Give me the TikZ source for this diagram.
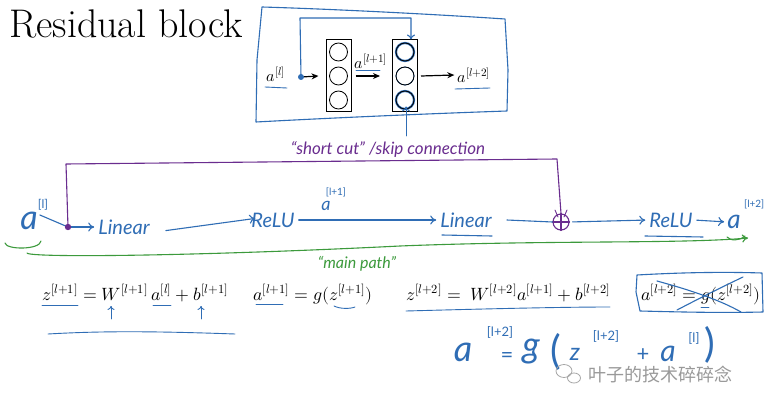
\documentclass[tikz,border=0pt]{standalone}
\usepackage{fontspec}
\usepackage{amsmath}
\usepackage{unicode-math}
\setmathfont{Latin Modern Math}
\usetikzlibrary{arrows.meta}
\newfontfamily\hand{Lato}
\newfontfamily\cjk{Noto Sans CJK SC}
\definecolor{hblue}{HTML}{2F6DB5}
\definecolor{hpurple}{HTML}{6A2D8F}
\definecolor{hgreen}{HTML}{3C9A3C}
\tikzset{
  hb/.style={draw=hblue, line width=1.1pt, line cap=round, line join=round},
  hp/.style={draw=hpurple, line width=1.1pt, line cap=round, line join=round},
  hg/.style={draw=hgreen, line width=1.1pt, line cap=round, line join=round},
  harr/.style={hb, -{To[length=6pt,width=9pt]}, shorten <=3pt, shorten >=3pt},
  karr/.style={draw=black, line width=1.2pt, -{Stealth[length=7pt,width=6pt]}},
  ink/.style={text=hblue, font=\hand\itshape\fontsize{20}{22}\selectfont, inner sep=1pt},
  hsup/.style={text=hblue, font=\hand\fontsize{12}{13}\selectfont, inner sep=0pt},
  pink/.style={text=hpurple, font=\hand\itshape\fontsize{17}{19}\selectfont},
  gink/.style={text=hgreen, font=\hand\itshape\fontsize{16}{18}\selectfont},
  layerbox/.style={draw, line width=1pt, minimum width=25pt, minimum height=72pt, inner sep=0pt},
  neuron/.style={circle, draw, line width=0.8pt, minimum size=18pt, inner sep=0pt},
  eq/.style={font=\fontsize{17.8}{21}\selectfont, anchor=base west, inner sep=0pt},
  sm/.style={font=\fontsize{16}{18}\selectfont, inner sep=1pt}
}
\begin{document}
\begin{tikzpicture}[x=1pt,y=-1pt]
\useasboundingbox (0,0) rectangle (765,406);
\fill[white] (0,0) rectangle (765,406);

% title
\node[font=\fontsize{40}{44}\selectfont, anchor=base west, inner sep=0pt] (title) at (9,38) {Residual block};

% ---- top diagram ----
\draw[hb] (262,7) .. controls (330,9) and (430,14) .. (505,19) -- (508,70) -- (507,111)
  .. controls (420,114) and (330,118) .. (256,122) -- (257,60) -- cycle;
\node[sm] (al) at (276,74) {$a^{[l]}$};
\draw[hb, line width=0.9pt] (265,87) -- (287,88);
\coordinate (dot) at (301,77);
\node[layerbox] (L1) at (338.5,76) {};
\node[neuron] (n11) at (338.5,52) {};
\node[neuron] (n12) at (338.5,76) {};
\node[neuron] (n13) at (338.5,100) {};
\node[layerbox] (L2) at (405,76) {};
\node[neuron, draw=hblue, double=hblue, double distance=0.6pt] (n21) at (405,52) {};
\node[neuron, draw=hblue] (n22) at (405,76) {};
\node[neuron, draw=hblue, double=hblue, double distance=0.6pt] (n23) at (405,100) {};
\node[neuron] at (405,52) {};
\node[neuron] at (405,76) {};
\node[neuron] at (405,100) {};
\draw[karr] (dot) -- ([xshift=-7pt]L1.west);
\draw[karr] ([xshift=4pt]L1.east) -- ([xshift=-12pt]L2.west);
\node[sm] (a1lab) at (371,61) {$a^{[l+1]}$};
\draw[hb, line width=0.9pt] (356,70) -- (380,70);
\node[sm] (aout) at (474,75) {$a^{[l+2]}$};
\draw[karr] ([xshift=3pt]L2.east) -- ([xshift=-2pt]aout.west);
\draw[hb, line width=0.9pt] (455,89) -- (490,88);
\draw[hb, -{To[length=5pt,width=8pt]}] (dot) -- (300,18) -- (411,18) -- ([xshift=6pt]L2.north);
\fill[hblue] (dot) circle (3pt);
\coordinate (upbot) at (406,136);
\draw[hb, line width=0.9pt, -{To[length=5pt,width=8pt]}] (upbot) -- ([yshift=6pt]upbot |- L2.south);

% ---- purple skip text ----
\node[pink] (sctext) at (388,149) {“short cut” /skip connection};

% ---- main path ----
\node[text=hblue, font=\hand\itshape\fontsize{34}{36}\selectfont, inner sep=0pt] (a0) at (29,221) {a};
\node[hsup] (a0sup) at (43,205) {[l]};
\coordinate (pdot) at (68,227);
\node[ink] (lin1) at (124,227) {Linear};
\node[ink] (relu1) at (273,220) {ReLU};
\node[ink] (lin2) at (466,220) {Linear};
\node[circle, draw=hpurple, line width=1.1pt, minimum size=16pt, inner sep=0pt] (plus) at (561,222) {};
\draw[hp] (plus.north) -- (plus.south) (plus.west) -- (plus.east);
\node[ink] (relu2) at (671,220) {ReLU};
\node[text=hblue, font=\hand\itshape\fontsize{26}{28}\selectfont, inner sep=0pt] (a2) at (734,222) {a};
\node[hsup, font=\hand\fontsize{10}{11}\selectfont, anchor=west] (a2sup) at (744,204) {[l+2]};

\draw[hb] (a0.east) ++(2pt,6pt) coordinate (a0r) -- (pdot);
\draw[harr] (pdot) -- (lin1.west);
\draw[harr] (lin1.east) ++(12pt,-4pt) coordinate (l1r) -- ([xshift=8pt,yshift=2pt]relu1.west);
\draw[harr] (relu1.east) -- (lin2.west);
\node[text=hblue, font=\hand\itshape\fontsize{18}{19}\selectfont, inner sep=0pt] (a1mid) at (326,206) {a};
\node[hsup, font=\hand\fontsize{10}{11}\selectfont] (a1sup) at (336,192) {[l+1]};
\draw[hb] (lin2.east) ++(14pt,0) coordinate (l2r) -- (plus.west);
\draw[harr] (plus.east) -- (relu2.west);
\draw[harr] (relu2.east) -- (a2.west);
\draw[hb] (442,235) -- (492,236);
\draw[hb] (645,236) -- (703,237);

% skip connection (purple)
\coordinate (sk1) at (66,164);
\coordinate (sk2) at (557,159);
\draw[hp] (pdot) -- (sk1) -- (sk2) -- (plus.north);
\draw[hp, line width=0.9pt] (555,210) -- (558,217) (567,210) -- (564,217);
\fill[hpurple] (pdot) circle (3.2pt);

% green main path
\draw[hg] (5,243) .. controls (6,250) and (40,250) .. (41,241);
\coordinate (gstart) at (27,253);
\coordinate (gend) at (748,238);
\draw[hg, -{To[length=6pt,width=8pt]}] (gstart) .. controls (29,258) and (200,256) .. (400,246)
  .. controls (550,240) and (680,244) .. (gend);
\draw[hg] (727,237) .. controls (730,241) and (740,241) .. (745,236);
\node[gink] (mp) at (357,264) {“main path”};

% ---- equations ----
\node[eq] (e1) at (42,300) {$z^{[l+1]} = W^{[l+1]}\,a^{[l]} + b^{[l+1]}$};
\node[eq] (e2) at (253,300) {$a^{[l+1]} = g(z^{[l+1]})$};
\node[eq] (e3) at (406,300) {$z^{[l+2]} = \;W^{[l+2]}a^{[l+1]} + b^{[l+2]}$};
\node[eq] (e4) at (641,300) {$a^{[l+2]} = g(z^{[l+2]})$};

\draw[hb, line width=0.9pt] (42,305) -- (78,305);
\draw[hb, line width=0.9pt] (153,305) -- (171,305);
\draw[hb, line width=0.9pt] (256,304) -- (283,304);
\draw[hb, line width=0.9pt] (334,306) .. controls (340,309) and (350,309) .. (355,307);
\coordinate (up1) at (111,319);
\coordinate (up2) at (201,319);
\draw[hb, line width=0.9pt, -{To[length=4pt,width=7pt]}] (up1) -- ++(0,-13);
\draw[hb, line width=0.9pt, -{To[length=4pt,width=7pt]}] (up2) -- ++(0,-13);
\draw[hb, line width=0.9pt] (48,334) .. controls (100,331) and (150,331) .. (235,334);
\draw[hb, line width=0.9pt] (406,311) .. controls (480,309) and (560,307) .. (610,307);
\draw[hb] (637,275) .. controls (690,272) and (730,272) .. (762,273) -- (763,312)
  .. controls (720,313) and (680,312) .. (640,311) -- (636,292) -- cycle;
\draw[hb] (657,281) .. controls (690,290) and (720,300) .. (741,312);
\draw[hb] (743,277) .. controls (720,288) and (700,298) .. (677,310);
\draw[hb, line width=0.9pt] (701,307) -- (709,307);

% ---- bottom handwritten equation ----
\begin{scope}[text=hblue, inner sep=0pt]
\node[font=\hand\itshape\fontsize{36}{38}\selectfont] (b1) at (463,352) {a};
\node[font=\hand\fontsize{13}{14}\selectfont] (b1s) at (500,332) {[l+2]};
\node[font=\hand\fontsize{22}{24}\selectfont] (b2) at (507,357) {=};
\node[font=\hand\itshape\fontsize{36}{38}\selectfont] (b3) at (531,352) {g};
\node[font=\hand\fontsize{40}{42}\selectfont] (b4) at (556,352) {(};
\node[font=\hand\itshape\fontsize{24}{26}\selectfont] (b5) at (575,354) {z};
\node[font=\hand\fontsize{13}{14}\selectfont] (b5s) at (606,336) {[l+2]};
\node[font=\hand\fontsize{22}{24}\selectfont] (b6) at (643,355) {+};
\node[font=\hand\itshape\fontsize{30}{32}\selectfont] (b7) at (668,354) {a};
\node[font=\hand\fontsize{13}{14}\selectfont] (b7s) at (694,338) {[l]};
\node[font=\hand\fontsize{40}{42}\selectfont] (b8) at (710,345) {)};
\end{scope}

% ---- watermark ----
\node[text=gray!80, font=\cjk\fontsize{18}{20}\selectfont, anchor=west, inner sep=0pt] (wm) at (588,375) {叶子的技术碎碎念};
\draw[gray!70, line width=0.8pt] (564,371) ellipse (8pt and 6.5pt);
\draw[gray!70, line width=0.8pt] (574,378) ellipse (6.5pt and 5pt);
\end{tikzpicture}
\end{document}
